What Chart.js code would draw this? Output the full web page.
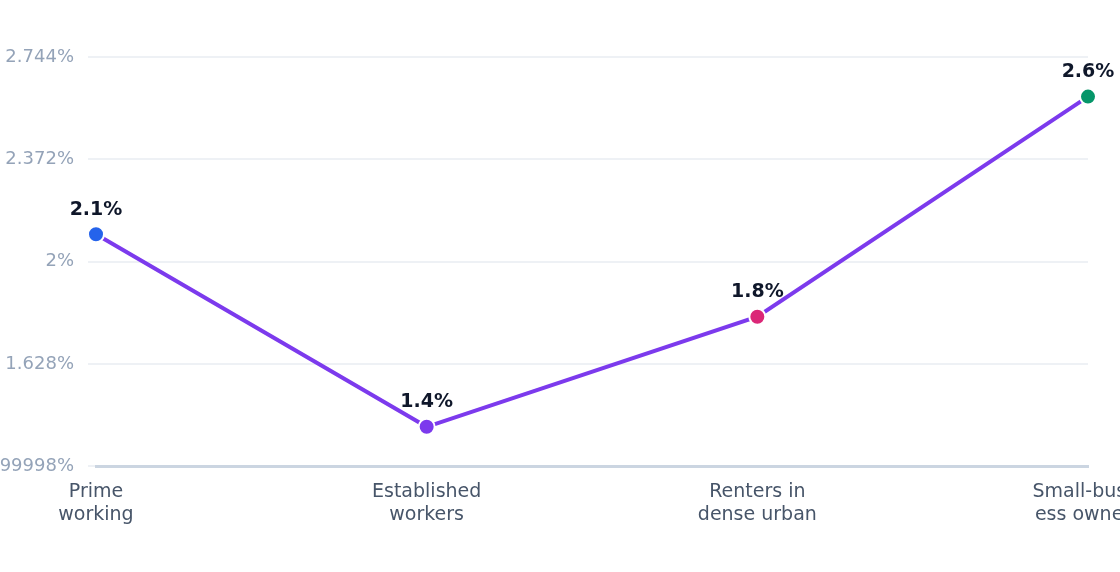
<!DOCTYPE html>
<html><head><meta charset="utf-8">
<script src="https://cdn.jsdelivr.net/npm/chart.js@4"></script>
<style>html,body{margin:0;padding:0;background:#fff}#w{width:1120px;height:572px}</style>
</head><body><div id="w"><canvas id="c"></canvas></div>
<script>
const categories = [["Prime","working"],["Established","workers"],["Renters in","dense urban"],["Small-busin","ess owners"]];
const values = [2.1, 1.4, 1.8, 2.6];
const pointColors = ["#2563eb","#7c3aed","#db2777","#059669"];
const yTicks = [1.2559999999999998, 1.628, 2, 2.372, 2.744];
Chart.defaults.font.family = "'DejaVu Sans', sans-serif";
const labelPlugin = {
  id:'lbl',
  afterDatasetsDraw(chart){
    const ctx=chart.ctx, meta=chart.getDatasetMeta(0);
    ctx.save();
    ctx.font="bold 19px 'DejaVu Sans', sans-serif";ctx.fillStyle='#0f172a';ctx.textAlign='center';ctx.textBaseline='bottom';
    meta.data.forEach((p,i)=>ctx.fillText(values[i].toFixed(1)+'%',p.x,p.y-15));
    ctx.restore();
  }
};
new Chart(document.getElementById('c'),{
  type:'line',
  data:{labels:categories,datasets:[{data:values,borderColor:'#7c3aed',borderWidth:4,tension:0,
    pointBackgroundColor:pointColors,pointBorderColor:'#fff',pointBorderWidth:2,pointRadius:8,clip:false}]},
  options:{responsive:true,maintainAspectRatio:false,animation:false,
    layout:{padding:{top:57,right:32,bottom:40,left:0}},
    plugins:{legend:{display:false},tooltip:{enabled:false}},
    scales:{
      x:{grid:{display:false},border:{color:'#cbd5e1',width:3},
        ticks:{color:'#475569',font:{size:19},maxRotation:0,autoSkip:false,padding:6},
        afterFit(s){s.paddingLeft=0;s.paddingRight=0;}},
      y:{min:yTicks[0],max:yTicks[4],grid:{color:'#eef1f5',lineWidth:2},border:{display:false},
        afterBuildTicks(s){s.ticks=yTicks.map(v=>({value:v}));},
        afterFit(s){s.width=96;},
        ticks:{color:'#94a3b8',font:{size:18},padding:14,callback:v=>v+'%'}}
    }},
  plugins:[labelPlugin]
});
</script></body></html>
